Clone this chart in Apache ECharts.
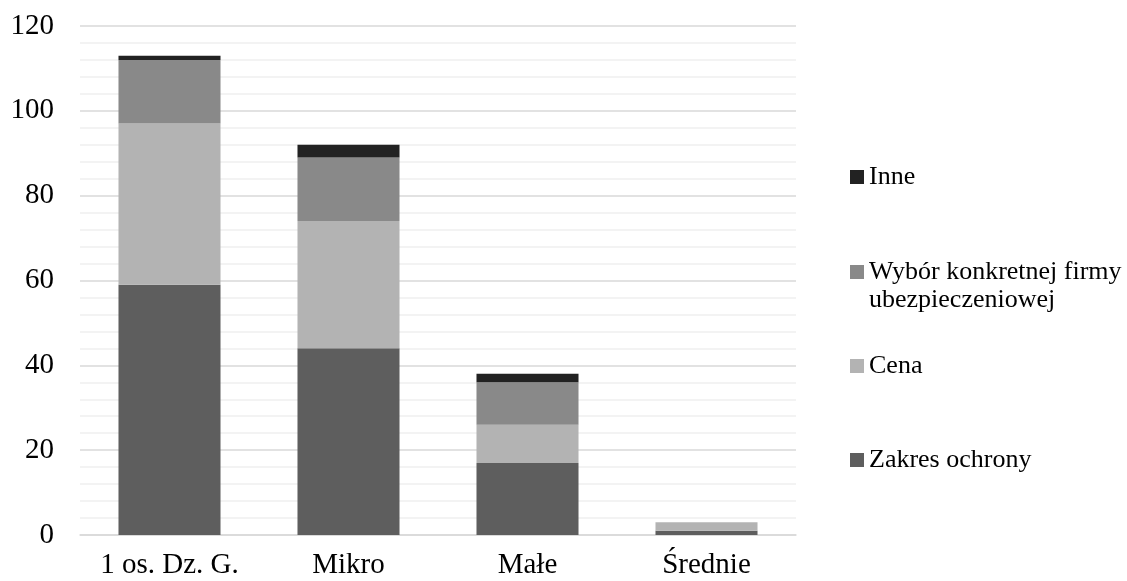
<!DOCTYPE html>
<html><head><meta charset="utf-8">
<script src="https://cdn.jsdelivr.net/npm/echarts@6/dist/echarts.min.js"></script>
<style>html,body{margin:0;padding:0;background:#fff}#c{width:1127px;height:581px}</style>
</head><body><div id="c"></div>
<script>
const categories = ['1 os. Dz. G.', 'Mikro', 'Małe', 'Średnie'];
const zakres = [59, 44, 17, 1];
const cena = [38, 30, 9, 2];
const wybor = [15, 15, 10, 0];
const inne = [1, 3, 2, 0];
const yTicks = [0, 20, 40, 60, 80, 100, 120];

const FONT = 'Liberation Serif';
const names = ['Zakres ochrony', 'Cena', 'Wybór konkretnej firmy', 'Inne'];
const colors = ['#5e5e5e', '#b3b3b3', '#898989', '#222222'];
const datas = [zakres, cena, wybor, inne];

const chart = echarts.init(document.getElementById('c'));
const legendTops = {'Inne': 159, 'Wybór konkretnej firmy': 254, 'Cena': 348, 'Zakres ochrony': 442};
const legends = Object.keys(legendTops).map(n => ({
  data: [n], left: 845, top: legendTops[n], orient: 'vertical',
  itemWidth: 14, itemHeight: 14, itemGap: 0, icon: 'rect',
  textStyle: {fontFamily: FONT, fontSize: 26, color: '#000', padding: [0, 0, 0, 0]},
  selectedMode: false
}));
chart.setOption({
  animation: false,
  grid: {left: 80, right: 331, top: 26, bottom: 46},
  legend: legends,
  graphic: [{type: 'text', left: 869, top: 287, style: {text: 'ubezpieczeniowej', font: '26px "Liberation Serif"', fill: '#000'}}],
  xAxis: {
    type: 'category', data: categories,
    axisLine: {lineStyle: {color: '#d9d9d9', width: 1.5}},
    axisTick: {show: false},
    axisLabel: {fontFamily: FONT, fontSize: 29, color: '#000', margin: 16, interval: 0}
  },
  yAxis: {
    type: 'value', min: yTicks[0], max: yTicks[yTicks.length - 1], interval: 20,
    axisLine: {show: false}, axisTick: {show: false},
    axisLabel: {fontFamily: FONT, fontSize: 29, color: '#000', margin: 26},
    splitLine: {lineStyle: {color: '#d9d9d9', width: 1.5}},
    minorTick: {show: false, splitNumber: 5},
    minorSplitLine: {show: true, lineStyle: {color: '#efefef', width: 1.5}}
  },
  series: names.map((n, i) => ({
    name: n, type: 'bar', stack: 'a', data: datas[i], barWidth: '57%',
    itemStyle: {color: colors[i]}
  }))
});
</script></body></html>
